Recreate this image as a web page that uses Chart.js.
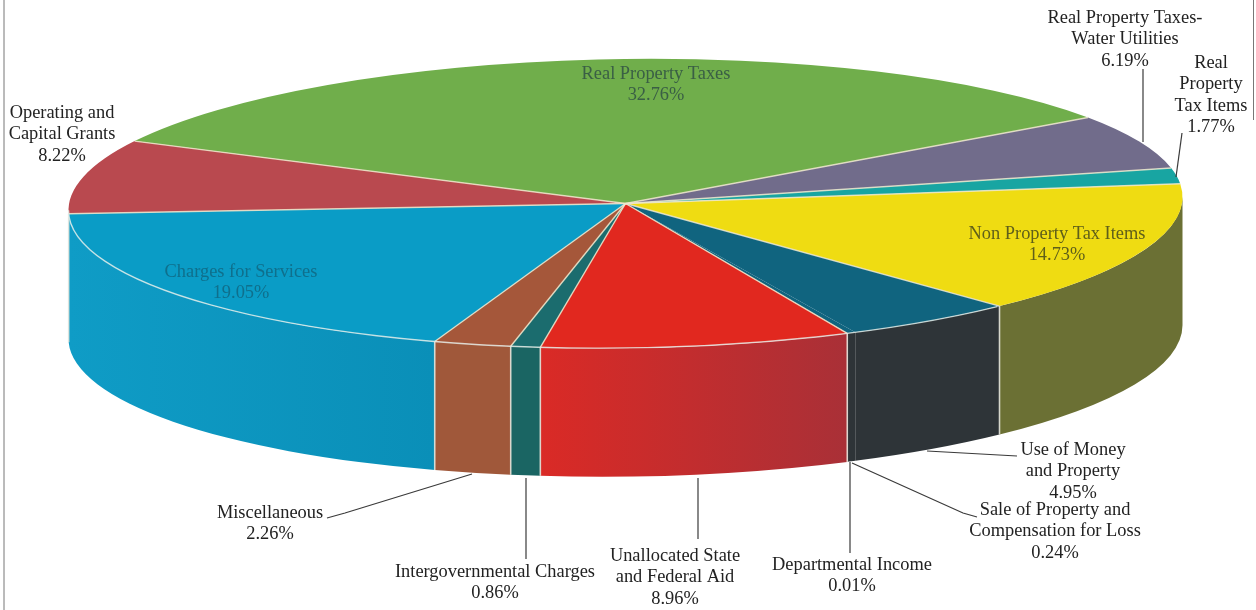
<!DOCTYPE html>
<html>
<head>
<meta charset="utf-8">
<title>Revenue by source</title>
<script src="https://cdn.jsdelivr.net/npm/chart.js@4"></script>
<style>
  html, body { margin: 0; padding: 0; background: #fff; }
  canvas { display: block; }
</style>
</head>
<body>
<canvas id="pie" width="1256" height="610"></canvas>
<script>
var categories = [
  'Real Property Taxes', 'Real Property Taxes-Water Utilities', 'Real Property Tax Items',
  'Non Property Tax Items', 'Use of Money and Property', 'Sale of Property and Compensation for Loss',
  'Departmental Income', 'Unallocated State and Federal Aid', 'Intergovernmental Charges',
  'Miscellaneous', 'Charges for Services', 'Operating and Capital Grants'
];
var shares = [32.76, 6.19, 1.77, 14.73, 4.95, 0.24, 0.01, 8.96, 0.86, 2.26, 19.05, 8.22];

// label text broken the way it is printed, the percentage is appended from shares
var labelLines = [
  ['Real Property Taxes'], ['Real Property Taxes-', 'Water Utilities'], ['Real', 'Property', 'Tax Items'],
  ['Non Property Tax Items'], ['Use of Money', 'and Property'], ['Sale of Property and', 'Compensation for Loss'],
  ['Departmental Income'], ['Unallocated State', 'and Federal Aid'], ['Intergovernmental Charges'],
  ['Miscellaneous'], ['Charges for Services'], ['Operating and', 'Capital Grants']
];

// colours of the top face, then of the side wall going right to left
var topColors = ['#70ae4b', '#716c8b', '#18a5a2', '#efdc12', '#10647f', '#10647f',
  '#e1281f', '#e1281f', '#1b6c6e', '#a5573a', '#0a9cc6', '#b9494f'];
var wallRight = ['#70ae4b', '#716c8b', '#18a5a2', '#6b7034', '#2e3438', '#2e3438',
  '#a93037', '#a93037', '#1a6563', '#a0583a', '#0a8fb8', '#0f9cc6'];
var wallLeft = ['#70ae4b', '#716c8b', '#18a5a2', '#6b7034', '#2e3438', '#2e3438',
  '#a93037', '#da2a26', '#1a6563', '#a0583a', '#0f9cc6', '#0f9cc6'];

// label centre x, middle of first line y, text colour
var labelSpots = [
  [656, 74, '#3a5f45'], [1125, 18, '#222'], [1211, 63, '#222'],
  [1057, 234, '#5f5f1a'], [1073, 450, '#222'], [1055, 510, '#222'],
  [852, 565, '#222'], [675, 556, '#222'], [495, 572, '#222'],
  [270, 513, '#222'], [241, 272, '#0f6f8c'], [62, 113, '#222']
];
var leaderLines = [
  [[1143, 69], [1143, 142]],
  [[1182, 133], [1176, 177]],
  [[927, 451], [1017, 456]],
  [[852, 463], [963, 513], [977, 517]],
  [[850, 462], [850, 553]],
  [[698, 478], [698, 539]],
  [[526, 478], [526, 559]],
  [[472, 474], [345, 513], [327, 518]]
];

var squash = 0.2594;
var tilt = -0.012;
var depth = 128.5;
var lineHeight = 21.5;

// slanted space of the disc, circle coordinates go in, the rim ellipse comes out
function enterDisc(ctx, cx, cy, ratio) {
  ctx.save();
  ctx.translate(cx, cy);
  ctx.transform(1, tilt, 0, ratio, 0, 0);
  ctx.translate(-cx, -cy);
}

var pie3d = {
  id: 'pie3d',
  beforeDatasetsDraw: function(chart) {
    var ctx = chart.ctx;
    var arcs = chart.getDatasetMeta(0).data;
    var cx = arcs[0].x, cy = arcs[0].y, rx = arcs[0].outerRadius, ry = rx * squash;

    // side wall, only the part of each slice that faces the front
    enterDisc(ctx, cx, cy, 1);
    arcs.forEach(function(arc, i) {
      var lo = Math.max(arc.startAngle, 0);
      var hi = Math.min(arc.endAngle, Math.PI);
      if (hi <= lo) return;
      var grad = ctx.createLinearGradient(cx + rx * Math.cos(lo), 0, cx + rx * Math.cos(hi), 0);
      grad.addColorStop(0, wallRight[i]);
      grad.addColorStop(1, wallLeft[i]);
      ctx.beginPath();
      ctx.ellipse(cx, cy, rx, ry, 0, lo, hi);
      ctx.ellipse(cx, cy + depth, rx, ry, 0, hi, lo, true);
      ctx.closePath();
      ctx.fillStyle = grad;
      ctx.fill();
    });
    ctx.strokeStyle = 'rgba(232,232,222,0.85)';
    ctx.lineWidth = 1.6;
    arcs.forEach(function(arc, i) {
      if (shares[i] < 0.5) return;
      var a = arc.startAngle;
      if (a <= 0 || a >= Math.PI) return;
      var x = cx + rx * Math.cos(a), y = cy + ry * Math.sin(a);
      ctx.beginPath();
      ctx.moveTo(x, y);
      ctx.lineTo(x, y + depth);
      ctx.stroke();
    });
    ctx.restore();

    // the library draws the slices inside this flattened space
    enterDisc(ctx, cx, cy, squash);
  },
  afterDatasetsDraw: function(chart) {
    var ctx = chart.ctx;
    ctx.restore();

    var arcs = chart.getDatasetMeta(0).data;
    var cx = arcs[0].x, cy = arcs[0].y, rx = arcs[0].outerRadius, ry = rx * squash;

    // seams between slices and the light rim along the front edge
    enterDisc(ctx, cx, cy, 1);
    ctx.strokeStyle = 'rgba(238,232,205,0.85)';
    ctx.lineWidth = 1.4;
    arcs.forEach(function(arc, i) {
      if (shares[i] < 0.5) return;
      ctx.beginPath();
      ctx.moveTo(cx, cy);
      ctx.lineTo(cx + rx * Math.cos(arc.startAngle), cy + ry * Math.sin(arc.startAngle));
      ctx.stroke();
    });
    ctx.strokeStyle = 'rgba(232,240,235,0.8)';
    ctx.beginPath();
    ctx.ellipse(cx, cy, rx, ry, 0, 0.84, Math.PI);
    ctx.stroke();
    ctx.restore();

    // leader lines
    ctx.strokeStyle = '#3a3a3a';
    ctx.lineWidth = 1.2;
    leaderLines.forEach(function(pts) {
      ctx.beginPath();
      pts.forEach(function(p, n) {
        if (n === 0) ctx.moveTo(p[0], p[1]); else ctx.lineTo(p[0], p[1]);
      });
      ctx.stroke();
    });

    // labels
    ctx.font = '18.4px "Liberation Serif"';
    ctx.textAlign = 'center';
    ctx.textBaseline = 'middle';
    labelLines.forEach(function(lines, i) {
      var spot = labelSpots[i];
      var all = lines.concat(shares[i].toFixed(2) + '%');
      ctx.fillStyle = spot[2];
      all.forEach(function(t, n) {
        ctx.fillText(t, spot[0], spot[1] + n * lineHeight);
      });
    });

    // page edges left over from the printed sheet
    ctx.strokeStyle = '#777';
    ctx.lineWidth = 1;
    ctx.beginPath();
    ctx.moveTo(4, 0);
    ctx.lineTo(4, 610);
    ctx.moveTo(1253.5, 0);
    ctx.lineTo(1253.5, 120);
    ctx.stroke();
  }
};

var chart = new Chart(document.getElementById('pie').getContext('2d'), {
  type: 'pie',
  data: {
    labels: categories,
    datasets: [{
      data: shares,
      backgroundColor: topColors,
      borderWidth: 0,
      clip: false
    }]
  },
  options: {
    responsive: false,
    animation: false,
    rotation: -61.8,
    radius: 557,
    layout: { padding: { right: 5, bottom: 203 } },
    plugins: { legend: { display: false }, tooltip: { enabled: false } }
  },
  plugins: [pie3d]
});
</script>
</body>
</html>
